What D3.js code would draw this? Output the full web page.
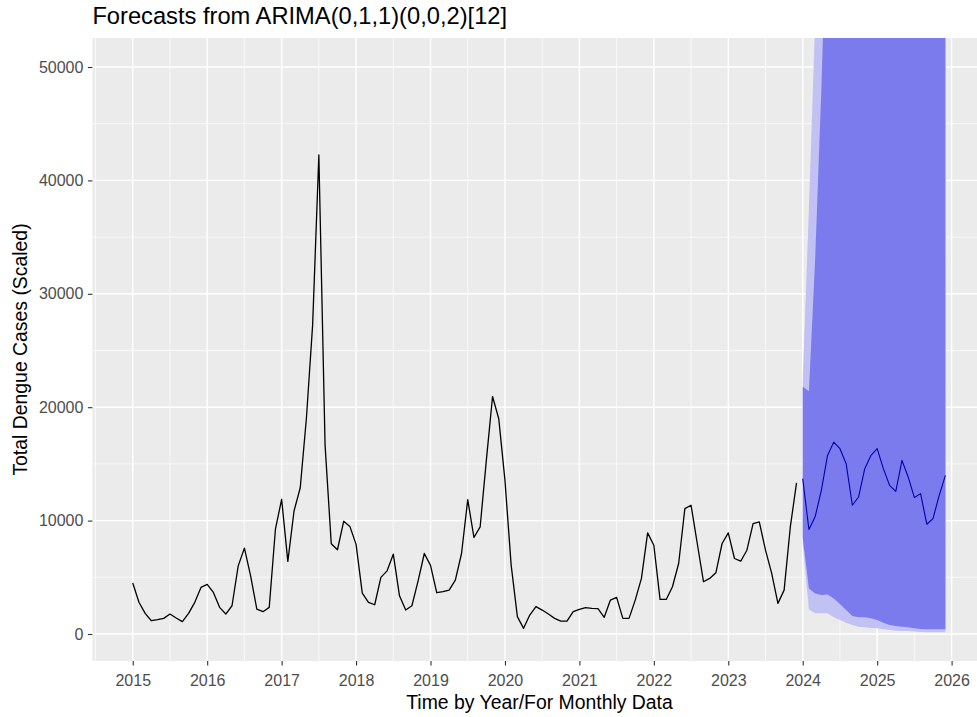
<!DOCTYPE html>
<html>
<head>
<meta charset="utf-8">
<script src="https://cdn.jsdelivr.net/npm/d3@7"></script>
<style>
  html, body { margin: 0; padding: 0; background: #ffffff; }
  svg { display: block; font-family: "Liberation Sans", Arial, sans-serif; }
</style>
</head>
<body>
<svg id="chart" width="977" height="717"></svg>
<script>
// Monthly dengue totals (scaled), Jan 2015 – Dec 2023
const startYear = 2015;
const observed = [
  4500, 2800, 1820, 1170, 1260, 1380, 1760, 1410, 1090, 1820, 2790, 4110,
  4370, 3670, 2350, 1760, 2490, 6010, 7570, 5130, 2200, 1970, 2350, 9240,
  11880, 6400, 10850, 12900, 19070, 27280, 42240, 16680, 7960, 7430, 9940, 9490,
  7900, 3600, 2790, 2580, 4990, 5570, 7040, 3370, 2110, 2490, 4690, 7100,
  6050, 3640, 3730, 3870, 4750, 7100, 11850, 8510, 9440, 15310, 20940, 18980,
  13550, 6070, 1530, 500, 1670, 2410, 2110, 1760, 1380, 1140, 1140, 1970,
  2170, 2320, 2260, 2230, 1470, 2990, 3230, 1380, 1380, 2990, 4900, 8920,
  7830, 3050, 3050, 4170, 6220, 11060, 11350, 7980, 4610, 4900, 5400, 7980,
  8920, 6660, 6420, 7390, 9740, 9880, 7390, 5340, 2700, 3870, 9440, 13320
];

// ARIMA(0,1,1)(0,0,2)[12] forecast, Jan 2024 – Dec 2025
const forecastStart = 2024;
const forecastMean = [
  13700, 9210, 10330, 12670, 15750, 16920, 16340, 15020, 11350, 12080, 14580, 15750,
  16340, 14580, 13110, 12580, 15310, 13850, 12030, 12380, 9680, 10180, 12230, 13990
];
const lower80 = [
  8500, 4020, 3580, 3430, 3490, 3140, 2640, 2110, 1580, 1470, 1470, 1380,
  1230, 1000, 790, 700, 650, 590, 500, 440, 410, 410, 410, 410
];
const upper80 = [
  21800, 21400, 33000, 48000, 66000, 84000, 105000, 128000, 152000, 178000, 205000, 234000,
  265000, 298000, 333000, 370000, 409000, 450000, 493000, 538000, 585000, 634000, 685000, 738000
];
const lower95 = [
  7900, 2170, 1820, 1820, 1820, 1470, 1230, 1000, 790, 650, 590, 530,
  500, 410, 350, 290, 260, 260, 210, 180, 150, 150, 150, 150
];
const upper95 = [
  22400, 37600, 54000, 76000, 101000, 128000, 158000, 190000, 225000, 262000, 302000, 345000,
  390000, 438000, 489000, 543000, 600000, 660000, 723000, 789000, 858000, 930000, 1005000, 1083000
];

const xTickYears = [2015, 2016, 2017, 2018, 2019, 2020, 2021, 2022, 2023, 2024, 2025, 2026];
const yTickValues = [0, 10000, 20000, 30000, 40000, 50000];

const titleText = "Forecasts from ARIMA(0,1,1)(0,0,2)[12]";
const xTitle = "Time by Year/For Monthly Data";
const yTitle = "Total Dengue Cases (Scaled)";

// ---- layout ----
const panel = { left: 92.4, top: 38, right: 986, bottom: 661 };

const x = d3.scaleLinear()
  .domain([2014.458, 2026.462])
  .range([panel.left, panel.right]);
const y = d3.scaleLinear()
  .domain([-2381, 52557])
  .range([panel.bottom, panel.top]);

const svg = d3.select("#chart");

svg.append("defs").append("clipPath").attr("id", "panel-clip")
  .append("rect")
  .attr("x", panel.left).attr("y", panel.top)
  .attr("width", panel.right - panel.left)
  .attr("height", panel.bottom - panel.top);

// panel background
svg.append("rect")
  .attr("x", panel.left).attr("y", panel.top)
  .attr("width", panel.right - panel.left)
  .attr("height", panel.bottom - panel.top)
  .attr("fill", "#ebebeb");

const grid = svg.append("g").attr("clip-path", "url(#panel-clip)");

// minor grid (half years / half steps)
const xMinor = xTickYears.map(v => v - 0.5).concat([xTickYears[xTickYears.length - 1] + 0.5]);
const yMinor = yTickValues.map(v => v + 5000);

grid.selectAll(".xminor").data(xMinor).join("line")
  .attr("x1", d => x(d)).attr("x2", d => x(d))
  .attr("y1", panel.top).attr("y2", panel.bottom)
  .attr("stroke", "#ffffff").attr("stroke-width", 0.7);
grid.selectAll(".yminor").data(yMinor).join("line")
  .attr("x1", panel.left).attr("x2", panel.right)
  .attr("y1", d => y(d)).attr("y2", d => y(d))
  .attr("stroke", "#ffffff").attr("stroke-width", 0.7);

// major grid
grid.selectAll(".xmajor").data(xTickYears).join("line")
  .attr("x1", d => x(d)).attr("x2", d => x(d))
  .attr("y1", panel.top).attr("y2", panel.bottom)
  .attr("stroke", "#ffffff").attr("stroke-width", 1.4);
grid.selectAll(".ymajor").data(yTickValues).join("line")
  .attr("x1", panel.left).attr("x2", panel.right)
  .attr("y1", d => y(d)).attr("y2", d => y(d))
  .attr("stroke", "#ffffff").attr("stroke-width", 1.4);

// ---- data series ----
const obs = observed.map((v, i) => ({ t: startYear + i / 12, v }));
const fc = forecastMean.map((v, i) => ({
  t: forecastStart + i / 12, v,
  lo80: lower80[i], hi80: upper80[i],
  lo95: lower95[i], hi95: upper95[i]
}));

const plot = svg.append("g").attr("clip-path", "url(#panel-clip)");

plot.append("path").datum(fc)
  .attr("fill", "#c1c1f4")
  .attr("d", d3.area().x(d => x(d.t)).y0(d => y(d.lo95)).y1(d => y(d.hi95)));
plot.append("path").datum(fc)
  .attr("fill", "#7b7bee")
  .attr("d", d3.area().x(d => x(d.t)).y0(d => y(d.lo80)).y1(d => y(d.hi80)));

const line = d3.line().x(d => x(d.t)).y(d => y(d.v));
plot.append("path").datum(obs)
  .attr("fill", "none").attr("stroke", "#000000")
  .attr("stroke-width", 1.3).attr("stroke-linejoin", "round")
  .attr("d", line);
plot.append("path").datum(fc)
  .attr("fill", "none").attr("stroke", "#0000aa")
  .attr("stroke-width", 1.1).attr("stroke-linejoin", "round")
  .attr("d", line);

// ---- axes ----
const xAxis = svg.append("g")
  .attr("transform", `translate(0,${panel.bottom})`)
  .call(d3.axisBottom(x).tickValues(xTickYears).tickFormat(d3.format("d"))
    .tickSize(4.5).tickPadding(9));
const yAxis = svg.append("g")
  .attr("transform", `translate(${panel.left},0)`)
  .call(d3.axisLeft(y).tickValues(yTickValues).tickFormat(d3.format("d"))
    .tickSize(4.5).tickPadding(4.5));

[xAxis, yAxis].forEach(g => {
  g.select(".domain").remove();
  g.selectAll(".tick line").attr("stroke", "#333333").attr("stroke-width", 1.1);
  g.selectAll(".tick text")
    .attr("fill", "#4d4d4d")
    .style("font-size", "16px")
    .style("font-family", "'Liberation Sans', Arial, sans-serif");
});

// ---- titles ----
svg.append("text")
  .attr("x", panel.left).attr("y", 24)
  .attr("fill", "#000000")
  .style("font-size", "23.7px")
  .text(titleText);

svg.append("text")
  .attr("x", 539.5).attr("y", 709)
  .attr("text-anchor", "middle")
  .attr("fill", "#000000")
  .style("font-size", "19.4px")
  .text(xTitle);

svg.append("text")
  .attr("transform", `translate(27,${(panel.top + panel.bottom) / 2}) rotate(-90)`)
  .attr("text-anchor", "middle")
  .attr("fill", "#000000")
  .style("font-size", "19.4px")
  .text(yTitle);
</script>
</body>
</html>
